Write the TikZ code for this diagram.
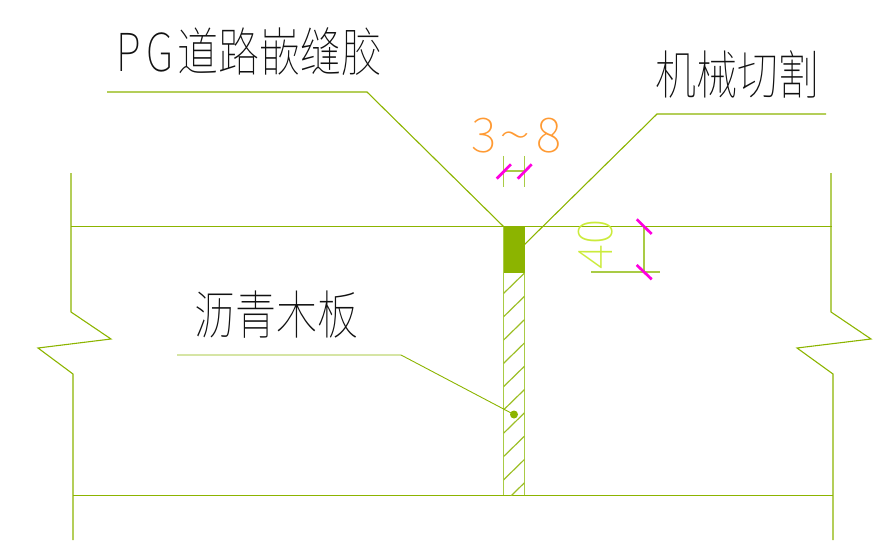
\documentclass[tikz,border=0pt]{standalone}
\usepackage{fontspec}
\setmainfont{Noto Sans CJK SC}[UprightFont=* Thin,BoldFont=* Thin]
\definecolor{lin}{HTML}{8CB400}
\definecolor{linl}{HTML}{A9CB45}
\definecolor{mag}{HTML}{FF00E0}
\definecolor{org}{HTML}{FF9A33}
\definecolor{yel}{HTML}{CBEB3C}
\definecolor{txt}{HTML}{111111}
\tikzset{
  wall/.style={draw=lin,line width=1.1pt,line join=miter},
  wallv/.style={draw=linl,line width=1.4pt},
  lead/.style={draw=lin,line width=1.1pt},
  dimln/.style={draw=linl,line width=1.1pt},
  tick/.style={draw=mag,line width=2.7pt},
  cad/.style={inner sep=0pt,text=txt,yscale=1.28,font=\fontsize{41}{41}\selectfont},
  num/.style={inner sep=0pt,font=\fontsize{48}{48}\selectfont}
}
\begin{document}
\begin{tikzpicture}[x=1pt,y=-1pt]
\useasboundingbox (0,0) rectangle (890,540);
% wall outlines
\coordinate (LT) at (71,173); \coordinate (L1) at (71,312); \coordinate (L2) at (111,339);
\coordinate (L3) at (38,348); \coordinate (L4) at (73,374); \coordinate (LB) at (73,540);
\coordinate (RT) at (831,173); \coordinate (R1) at (831,312); \coordinate (R2) at (871,339);
\coordinate (R3) at (797,348); \coordinate (R4) at (833,374); \coordinate (RB) at (833,540);
\draw[wall] (LT) -- (L1) -- (L2) -- (L3) -- (L4) -- (LB);
\draw[wall] (RT) -- (R1) -- (R2) -- (R3) -- (R4) -- (RB);
\coordinate (TL) at (71,226.5); \coordinate (TR) at (832,226.5);
\coordinate (BL) at (73,495.5); \coordinate (BR) at (833,495.5);
\draw[wall] (TL) -- (TR);
\draw[wall] (BL) -- (BR);
% joint
\coordinate (JA) at (503.5,226.5); \coordinate (JB) at (524.5,226.5);
\coordinate (JC) at (503.5,495); \coordinate (JD) at (524.5,495);
\draw[wallv] (JA) -- (JC);
\draw[wallv] (JB) -- (JD);
\fill[lin] (503.5,226.5) rectangle (524.5,273);
\begin{scope}
\clip (503.5,226.5) rectangle (524.5,495);
\foreach \k in {0,...,9}{
  \draw[draw=lin!85!white,line width=1.2pt] (503.5,293.5+23.3*\k) -- (524.5,273+23.3*\k);
}
\end{scope}
% leaders
\coordinate (P1) at (107,92); \coordinate (P2) at (367,92);
\draw[lead] (P1) -- (P2) -- (JA);
\coordinate (M1) at (826,114); \coordinate (M2) at (657,114); \coordinate (M3) at (524.5,244.5);
\draw[lead] (M1) -- (M2) -- (M3);
\coordinate (B1) at (177,355); \coordinate (B2) at (401,355); \coordinate (B3) at (514,414.5);
\draw[lead,line width=0.9pt] (B1) -- (B2) -- (B3);
\fill[lin] (B3) circle (4);
% dim 3~8
\coordinate (DA) at (503.5,156); \coordinate (DB) at (503.5,187);
\coordinate (DC) at (524.5,156); \coordinate (DD) at (524.5,187);
\coordinate (DE) at (503.5,171); \coordinate (DF) at (524.5,171);
\draw[dimln] (DA) -- (DB); \draw[dimln] (DC) -- (DD); \draw[dimln] (DE) -- (DF);
\draw[tick] (496.7,178.7) -- (511,164.3);
\draw[tick] (517.7,178.7) -- (531.7,164.3);
% dim 40
\coordinate (GA) at (644,226.5); \coordinate (GB) at (644,272);
\coordinate (GC) at (591,272); \coordinate (GD) at (660,272);
\draw[dimln] (GA) -- (GB); \draw[dimln] (GC) -- (GD);
\draw[tick] (636.7,219.3) -- (651.7,234);
\draw[tick] (636.7,265) -- (651.7,279.3);
% texts
\node[cad,anchor=east] (t1) at (383,52) {P\kern6pt G\kern4pt 道路嵌缝胶};
\node[cad,anchor=center] (t2) at (737,74) {机械切割};
\node[cad,anchor=center] (t3) at (276,315) {沥青木板};
\node[num,text=org] (t4) at (516.5,136) {3\kern3pt\scalebox{1.25}[1]{\string~}\kern5pt 8};
\node[num,text=yel,rotate=90] (t5) at (596,244) {40};
\end{tikzpicture}
\end{document}
